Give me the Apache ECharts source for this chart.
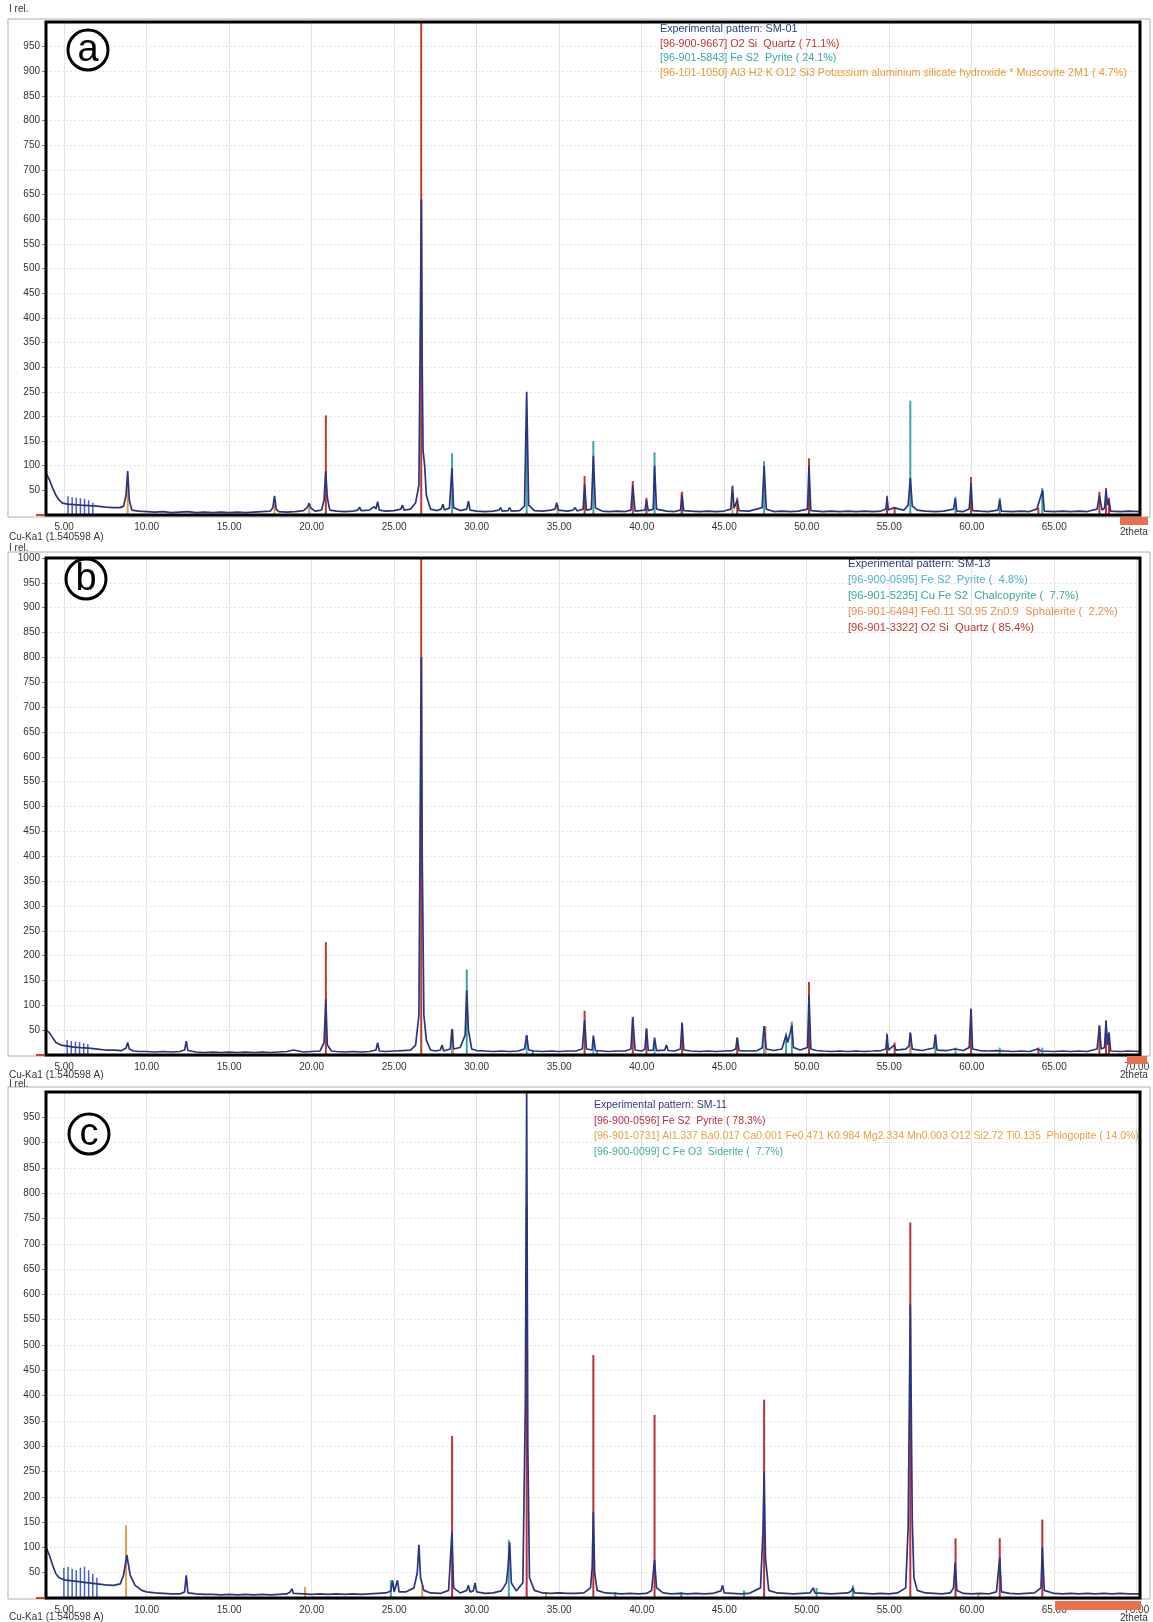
<!DOCTYPE html>
<html>
<head>
<meta charset="utf-8">
<script src="https://cdn.jsdelivr.net/npm/echarts@6/dist/echarts.min.js"></script>
<style>
  html, body { margin: 0; padding: 0; background: #fff; }
  #chart { width: 1153px; height: 1622px; }
</style>
</head>
<body>
<div id="chart"></div>
<script>
// x tick labels (2theta) per panel; the last one sits under the orange marker
const xTicksA = [5, 10, 15, 20, 25, 30, 35, 40, 45, 50, 55, 60, 65];
const xTicksB = [5, 10, 15, 20, 25, 30, 35, 40, 45, 50, 55, 60, 65, 70];
const xTicksC = [5, 10, 15, 20, 25, 30, 35, 40, 45, 50, 55, 60, 65, 70];

// ---- panel a : SM-01 ----
const legendA = [
  ['Experimental pattern: SM-01', '#2b3a86'],
  ['[96-900-9667] O2 Si  Quartz ( 71.1%)', '#c0392b'],
  ['[96-901-5843] Fe S2  Pyrite ( 24.1%)', '#3aa6a8'],
  ['[96-101-1050] Al3 H2 K O12 Si3 Potassium aluminium silicate hydroxide * Muscovite 2M1 ( 4.7%)', '#e59a3a']
];
const expA = [
  [3.9,85],[4.1,72],[4.3,55],[4.5,40],[4.7,30],[4.9,24],[5.2,22],[5.6,21],[6.0,20],[6.5,19],[7.0,18],[7.5,16],[8.0,15],[8.4,15],
  [8.6,18],[8.75,40],[8.85,89],[8.95,30],[9.1,10],[9.5,8],[10,7],[10.5,6],[11,7],[11.5,5],[12,6],[12.5,7],[13,5],[13.5,6],[14,5],
  [14.5,6],[15,5],[15.5,6],[16,5],[16.5,6],[17,7],[17.5,8],[17.65,15],[17.75,39],[17.85,12],[18,7],[18.5,6],[19,7],[19.5,9],
  [19.75,16],[19.85,24],[19.95,14],[20.2,8],[20.6,10],[20.75,30],[20.85,89],[20.95,35],[21.1,10],[21.5,8],[22,7],[22.5,8],
  [22.8,10],[22.9,16],[23.0,9],[23.5,10],[23.8,17],[23.9,12],[24.0,27],[24.1,10],[24.5,8],[25,9],[25.4,12],[25.5,20],[25.6,10],
  [26.0,12],[26.3,25],[26.5,60],[26.6,450],[26.65,640],[26.7,300],[26.75,130],[26.85,100],[26.95,40],[27.2,12],[27.6,9],
  [27.85,12],[27.95,22],[28.05,10],[28.35,14],[28.5,95],[28.6,15],[29.0,9],[29.4,12],[29.5,28],[29.6,10],[30,8],[30.5,7],
  [31,8],[31.35,10],[31.45,15],[31.55,8],[31.9,9],[32.0,15],[32.1,8],[32.6,9],[32.9,18],[33.03,250],[33.15,20],[33.5,9],[34,8],
  [34.5,10],[34.75,12],[34.85,25],[34.95,10],[35.5,8],[35.85,10],[35.95,15],[36.1,8],[36.45,12],[36.54,62],[36.65,10],
  [36.95,12],[37.07,120],[37.2,14],[37.6,8],[38,7],[38.5,8],[39,7],[39.35,10],[39.46,60],[39.6,8],[40.2,10],[40.29,30],
  [40.4,9],[40.7,12],[40.78,100],[40.9,12],[41.5,8],[42,7],[42.35,10],[42.45,40],[42.55,9],[43,8],[43.5,7],[44,8],[44.5,7],
  [45,8],[45.4,12],[45.5,59],[45.6,14],[45.79,30],[45.9,9],[46.5,8],[47.3,15],[47.42,100],[47.55,12],[48,7],[48.5,8],[49,7],
  [49.5,8],[50.05,12],[50.14,100],[50.25,9],[51,7],[51.5,8],[52,7],[52.5,8],[53,7],[53.5,8],[54,7],[54.5,8],[54.8,12],
  [54.87,35],[54.95,10],[55.3,15],[55.6,12],[55.9,10],[56.15,20],[56.28,75],[56.4,18],[56.7,10],[57.2,8],[57.8,7],[58.3,8],
  [58.9,12],[59.0,33],[59.1,8],[59.5,7],[59.85,12],[59.96,65],[60.05,9],[60.5,8],[61,7],[61.6,10],[61.7,30],[61.8,8],[62.5,7],
  [63,8],[63.5,7],[63.95,12],[64.04,15],[64.3,50],[64.4,8],[65,7],[65.5,8],[66,7],[66.5,8],[67,7],[67.6,12],[67.74,40],
  [67.9,10],[68.05,14],[68.14,50],[68.24,20],[68.32,30],[68.42,8],[69,7],[69.5,8],[70.2,7]
];
const lowA = [[5.25,38],[5.5,36],[5.75,35],[6.0,34],[6.25,33],[6.5,30],[6.75,25]];
const quartzA = [[20.86,202],[26.64,1000],[36.54,79],[39.46,69],[40.29,35],[42.45,47],[45.79,35],[50.14,115],
  [54.87,39],[55.33,15],[59.96,77],[64.04,15],[67.74,47],[68.14,55],[68.32,35]];
const pyriteA = [[28.51,125],[33.03,170],[37.07,150],[40.78,127],[47.42,109],[56.28,232],[59.02,37],[61.7,35],[64.28,55]];
const muscoviteA = [[8.85,60],[17.75,22],[19.85,16],[34.9,20],[42.4,45],[45.5,40]];

// ---- panel b : SM-13 ----
const legendB = [
  ['Experimental pattern: SM-13', '#2b3a86'],
  ['[96-900-0595] Fe S2  Pyrite (  4.8%)', '#4fb0d8'],
  ['[96-901-5235] Cu Fe S2  Chalcopyrite (  7.7%)', '#38a894'],
  ['[96-901-6494] Fe0.11 S0.95 Zn0.9  Sphalerite (  2.2%)', '#e8914a'],
  ['[96-901-3322] O2 Si  Quartz ( 85.4%)', '#c0392b']
];
const expB = [
  [3.9,50],[4.1,45],[4.3,35],[4.5,25],[4.8,20],[5.2,18],[5.6,16],[6,15],[6.5,14],[7,12],[7.5,10],[8,10],[8.5,9],[8.75,14],
  [8.85,25],[8.95,12],[9.2,8],[9.5,7],[10,7],[10.5,6],[11,7],[11.5,6],[12,7],[12.3,10],[12.4,28],[12.5,9],[13,6],[13.5,5],
  [14,6],[14.5,5],[15,6],[15.5,5],[16,6],[16.5,5],[17,6],[17.5,5],[18,6],[18.5,7],[18.9,10],[19,8],[19.5,6],[20,7],[20.5,8],
  [20.75,25],[20.86,112],[20.95,20],[21.2,8],[21.5,7],[22,6],[22.5,7],[23,6],[23.5,7],[23.9,10],[24,25],[24.1,8],[24.5,7],
  [25,8],[25.5,9],[26,10],[26.3,20],[26.5,80],[26.6,600],[26.65,800],[26.7,400],[26.8,80],[26.95,30],[27.2,10],[27.5,8],
  [27.8,10],[27.9,20],[28,8],[28.4,12],[28.5,52],[28.6,12],[29,15],[29.3,40],[29.4,130],[29.5,50],[29.7,12],[30,9],[30.5,8],
  [31,7],[31.5,8],[32,7],[32.5,8],[32.9,12],[33.03,40],[33.15,10],[33.5,8],[34,7],[34.5,8],[35,7],[35.5,8],[36,8],[36.4,12],
  [36.54,70],[36.65,12],[37.0,10],[37.07,39],[37.2,9],[37.6,8],[38,7],[38.5,8],[39,8],[39.35,12],[39.46,75],[39.6,10],[40,8],
  [40.2,12],[40.29,53],[40.4,9],[40.7,10],[40.78,35],[40.9,9],[41.4,10],[41.5,20],[41.6,9],[42,8],[42.35,12],[42.45,65],
  [42.55,10],[43,8],[43.5,7],[44,8],[44.5,7],[45,8],[45.5,9],[45.7,12],[45.79,35],[45.9,9],[46.5,8],[47,9],[47.3,14],
  [47.42,58],[47.55,12],[48,9],[48.5,12],[48.75,40],[48.85,25],[49.0,45],[49.1,60],[49.2,15],[49.6,10],[50.05,15],
  [50.14,120],[50.25,12],[50.6,9],[51,8],[51.5,7],[52,8],[52.5,7],[53,8],[53.5,7],[54,8],[54.5,9],[54.8,12],[54.87,40],
  [54.95,10],[55.3,20],[55.4,10],[56,12],[56.2,18],[56.28,45],[56.4,12],[57,9],[57.7,14],[57.8,40],[57.9,10],[58.5,9],
  [59,12],[59.5,9],[59.85,15],[59.96,93],[60.05,12],[60.5,9],[61,8],[61.5,9],[62,8],[62.5,7],[63,8],[63.5,7],[64,12],
  [64.1,15],[64.2,8],[65,7],[65.5,8],[66,7],[66.5,8],[67,7],[67.6,12],[67.74,58],[67.85,12],[68.05,15],[68.14,68],
  [68.24,20],[68.32,45],[68.42,8],[69,7],[69.5,8],[70.2,7]
];
const lowB = [[5.2,30],[5.45,28],[5.7,27],[5.95,26],[6.2,24],[6.45,22]];
const pyriteB = [[28.51,30],[33.03,40],[37.07,30],[40.78,25],[47.42,35],[56.28,45],[59.02,15],[61.7,15],[64.28,15]];
const chalcoB = [[29.4,172],[48.75,45],[49.1,67],[57.8,42],[33.4,10],[37.3,8]];
const sphaleriteB = [[28.56,52],[47.5,58],[56.3,40]];
const quartzB = [[20.86,227],[26.64,1000],[36.54,89],[39.46,77],[40.29,53],[42.45,65],[45.79,35],[50.14,147],
  [54.87,43],[55.33,25],[59.96,93],[64.04,15],[67.74,60],[68.14,70],[68.32,45]];

// ---- panel c : SM-11 ----
const legendC = [
  ['Experimental pattern: SM-11', '#2b3a86'],
  ['[96-900-0596] Fe S2  Pyrite ( 78.3%)', '#b8303c'],
  ['[96-901-0731] Al1.337 Ba0.017 Ca0.001 Fe0.471 K0.984 Mg2.334 Mn0.003 O12 Si2.72 Ti0.135  Phlogopite ( 14.0%)', '#e8a040'],
  ['[96-900-0099] C Fe O3  Siderite (  7.7%)', '#3fae9f']
];
const expC = [
  [3.9,100],[4.1,85],[4.3,65],[4.5,48],[4.7,40],[5.0,36],[5.5,34],[6.0,32],[6.5,30],[7.0,28],[7.5,26],[8.0,25],[8.4,28],
  [8.6,45],[8.8,85],[9.0,45],[9.3,25],[9.7,15],[10,12],[10.5,10],[11,9],[11.5,8],[12,8],[12.3,12],[12.4,45],[12.5,10],
  [13,8],[13.5,7],[14,7],[14.5,6],[15,7],[15.5,6],[16,7],[16.5,6],[17,7],[17.5,6],[18,7],[18.5,8],[18.7,12],[18.8,18],
  [18.9,9],[19.5,8],[20,7],[20.5,8],[21,7],[21.5,8],[22,7],[22.5,8],[23,7],[23.5,8],[24,9],[24.5,10],[24.8,14],[24.9,35],
  [25.0,12],[25.1,15],[25.2,35],[25.3,12],[25.7,12],[26.2,20],[26.4,50],[26.5,105],[26.6,40],[26.8,15],[27.2,10],[27.8,9],
  [28.3,15],[28.5,130],[28.6,20],[29,10],[29.4,15],[29.5,25],[29.6,12],[29.8,14],[29.9,30],[30,12],[30.5,9],[31,10],
  [31.5,14],[31.8,30],[31.9,60],[32.0,110],[32.1,30],[32.4,14],[32.8,30],[32.95,385],[33.03,1000],[33.1,300],[33.2,40],
  [33.5,15],[34,10],[34.5,9],[35,10],[35.5,9],[36,9],[36.5,10],[36.9,20],[37.0,60],[37.07,170],[37.15,50],[37.3,15],
  [37.8,10],[38.3,9],[38.8,8],[39.3,9],[39.8,8],[40.3,9],[40.6,15],[40.78,75],[40.9,20],[41.3,10],[41.8,8],[42.3,9],
  [42.8,8],[43.3,9],[43.8,8],[44.3,9],[44.8,14],[44.9,25],[45.0,10],[45.5,9],[46,8],[46.5,9],[47.2,20],[47.35,130],
  [47.42,250],[47.5,80],[47.7,15],[48.2,10],[48.7,9],[49.2,8],[49.7,9],[50.2,10],[50.4,20],[50.5,10],[51,9],[51.5,8],
  [52,9],[52.5,10],[52.7,14],[52.8,20],[52.9,10],[53.5,9],[54,8],[54.5,9],[55,8],[55.5,10],[56.0,20],[56.15,140],
  [56.28,580],[56.4,150],[56.5,40],[56.7,15],[57.2,10],[57.7,9],[58.2,8],[58.7,10],[58.9,20],[59.0,70],[59.1,15],[59.5,9],
  [60,8],[60.5,9],[61,8],[61.5,12],[61.7,80],[61.8,12],[62.3,9],[62.8,8],[63.3,9],[63.8,10],[64.2,20],[64.28,100],
  [64.4,15],[65,9],[65.5,8],[66,9],[66.5,8],[67,9],[67.5,8],[68,9],[68.5,8],[69,9],[69.5,8],[70.2,8]
];
const lowC = [[5.0,60],[5.25,62],[5.5,58],[5.75,55],[6.0,60],[6.25,62],[6.5,55],[6.75,48],[7.0,40]];
const pyriteC = [[28.51,320],[33.03,775],[37.07,480],[40.78,362],[47.42,392],[56.28,742],[59.02,118],[61.7,118],[64.28,155]];
const phlogopiteC = [[8.75,144],[19.6,22],[26.7,25],[34.2,12],[60.4,10]];
const sideriteC = [[24.8,35],[31.95,115],[38.4,12],[42.4,12],[46.2,15],[50.6,20],[52.8,25]];

const navy = '#2a3480';
const FONT = '"Liberation Sans", Arial, sans-serif';

// panel geometry (plot area, px)
const panels = [
  { top: 22, height: 493 },
  { top: 558, height: 497 },
  { top: 1092, height: 506 }
];
const PLOT_LEFT = 46;
const PLOT_WIDTH = 1094;

const chart = echarts.init(document.getElementById('chart'));

function sticks(name, data, color, idx, width) {
  return {
    name: name,
    type: 'bar',
    xAxisIndex: idx,
    yAxisIndex: idx,
    barWidth: width || 2,
    barGap: '-100%',
    data: data,
    itemStyle: { color: color },
    z: 4,
    silent: true
  };
}

function expLine(name, data, idx) {
  return {
    name: name,
    type: 'line',
    xAxisIndex: idx,
    yAxisIndex: idx,
    data: data,
    showSymbol: false,
    lineStyle: { color: navy, width: 1.7 },
    z: 5,
    silent: true
  };
}

const grids = panels.map((p) => ({
  left: PLOT_LEFT,
  top: p.top,
  width: PLOT_WIDTH,
  height: p.height
}));

const xAxes = [xTicksA, xTicksB, xTicksC].map((ticks, i) => ({
  type: 'value',
  gridIndex: i,
  min: 3.9,
  max: 70.2,
  axisLine: { show: false },
  axisTick: { show: false, customValues: ticks },
  axisLabel: {
    customValues: ticks,
    formatter: (v) => v.toFixed(2),
    fontFamily: FONT,
    fontSize: 10,
    color: '#333',
    margin: 7
  },
  splitLine: { show: true, lineStyle: { color: '#e4e4e4', width: 1 } }
}));

const yAxes = panels.map((p, i) => ({
  type: 'value',
  gridIndex: i,
  min: 0,
  max: 1000,
  interval: 50,
  axisLine: { show: false },
  axisTick: { show: true, length: 4, lineStyle: { color: '#777' } },
  axisLabel: {
    formatter: (v) => String(v),
    fontFamily: FONT,
    fontSize: 10,
    color: '#333',
    margin: 6,
    showMinLabel: false,
    showMaxLabel: i === 1
  },
  splitLine: { show: true, lineStyle: { color: '#e4e4e4', type: [2, 2] } }
}));

const series = [
  expLine(legendA[0][0], expA, 0),
  sticks('lowA', lowA, '#4a62b5', 0, 1.5),
  sticks(legendA[3][0], muscoviteA, legendA[3][1], 0),
  sticks(legendA[2][0], pyriteA, legendA[2][1], 0),
  sticks(legendA[1][0], quartzA, legendA[1][1], 0),

  expLine(legendB[0][0], expB, 1),
  sticks('lowB', lowB, '#4a62b5', 1, 1.5),
  sticks(legendB[1][0], pyriteB, legendB[1][1], 1),
  sticks(legendB[2][0], chalcoB, legendB[2][1], 1),
  sticks(legendB[3][0], sphaleriteB, legendB[3][1], 1),
  sticks(legendB[4][0], quartzB, legendB[4][1], 1),

  expLine(legendC[0][0], expC, 2),
  sticks('lowC', lowC, '#4a62b5', 2, 1.5),
  sticks(legendC[2][0], phlogopiteC, legendC[2][1], 2),
  sticks(legendC[3][0], sideriteC, legendC[3][1], 2),
  sticks(legendC[1][0], pyriteC, legendC[1][1], 2)
];

// legend text blocks as titles
const titles = [];
function addLegend(lines, left, top, step, size) {
  lines.forEach((l, k) => {
    titles.push({
      text: l[0],
      left: left,
      top: top + k * step,
      padding: 0,
      textStyle: { color: l[1], fontSize: size, fontWeight: 'normal', fontFamily: FONT }
    });
  });
}
addLegend(legendA, 660, 24, 14.5, 10.8);
addLegend(legendB, 848, 558, 16, 11.2);
addLegend(legendC, 594, 1100, 15.5, 10.5);

// static labels and decorations
function txt(text, x, y, size) {
  return {
    type: 'text', left: x, top: y, z: 20,
    style: { text: text, fontSize: size || 10, fontFamily: FONT, fill: '#333' }
  };
}
function circled(letter, cx, cy) {
  return [
    { type: 'circle', shape: { cx: cx, cy: cy, r: 20 }, style: { fill: '#fff', stroke: '#000', lineWidth: 3 }, z: 20 },
    {
      type: 'text', x: cx, y: cy + 1, z: 21,
      style: { text: letter, fontSize: 38, fontFamily: FONT, fill: '#000', align: 'center', verticalAlign: 'middle' }
    }
  ];
}
function orangeBar(x, y, w, h) {
  return { type: 'rect', shape: { x: x, y: y, width: w, height: h }, style: { fill: '#e8704c' }, z: 22 };
}
function frame(y, h) {
  return { type: 'rect', shape: { x: 8, y: y, width: 1142, height: h }, style: { fill: 'none', stroke: '#b0b0b0', lineWidth: 1 }, z: 1 };
}
function border(p) {
  return {
    type: 'rect',
    shape: { x: PLOT_LEFT, y: p.top, width: PLOT_WIDTH, height: p.height },
    style: { fill: 'none', stroke: '#000', lineWidth: 3 },
    z: 15
  };
}
function zeroMark(y) {
  return { type: 'line', shape: { x1: 36, y1: y, x2: 45, y2: y }, style: { stroke: '#d04030', lineWidth: 2 }, z: 20 };
}

const graphics = [
  frame(19, 498), frame(552, 504), frame(1087, 512),
  border(panels[0]), border(panels[1]), border(panels[2]),
  txt('I rel.', 9, 4), txt('I rel.', 9, 543), txt('I rel.', 9, 1079),
  txt('Cu-Ka1 (1.540598 A)', 9, 532), txt('Cu-Ka1 (1.540598 A)', 9, 1070), txt('Cu-Ka1 (1.540598 A)', 9, 1612),
  txt('2theta', 1120, 527), txt('2theta', 1120, 1070), txt('2theta', 1120, 1613),
  orangeBar(1120, 517, 28, 8), orangeBar(1127, 1056, 20, 8), orangeBar(1055, 1601, 86, 9),
  zeroMark(515), zeroMark(1055), zeroMark(1598)
].concat(circled('a', 88, 50), circled('b', 86, 579), circled('c', 89, 1134));

chart.setOption({
  animation: false,
  backgroundColor: '#fff',
  title: titles,
  grid: grids,
  xAxis: xAxes,
  yAxis: yAxes,
  series: series,
  graphic: graphics
});
</script>
</body>
</html>
